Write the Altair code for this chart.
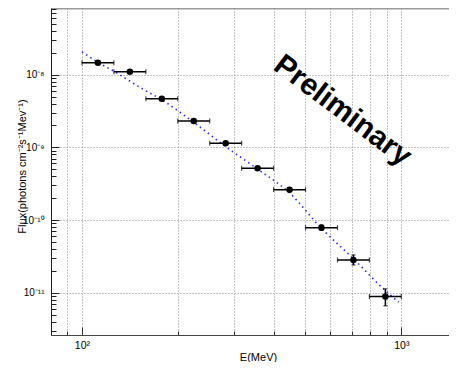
import altair as alt
import pandas as pd

# ---- data ----
E_center = [112.2, 141.3, 177.8, 223.9, 281.8, 354.8, 446.7, 562.3, 707.9, 891.3]
E_lo = [100.0, 125.9, 158.5, 199.5, 251.2, 316.2, 398.1, 501.2, 631.0, 794.3]
E_hi = [125.9, 158.5, 199.5, 251.2, 316.2, 398.1, 501.2, 631.0, 794.3, 1000.0]
flux = [1.46e-8, 1.10e-8, 4.68e-9, 2.31e-9, 1.14e-9, 5.16e-10, 2.62e-10, 7.86e-11, 2.83e-11, 8.9e-12]
flux_lo = [1.40e-8, 1.06e-8, 4.50e-9, 2.22e-9, 1.09e-9, 4.90e-10, 2.50e-10, 7.20e-11, 2.41e-11, 6.6e-12]
flux_hi = [1.52e-8, 1.14e-8, 4.86e-9, 2.40e-9, 1.19e-9, 5.40e-10, 2.75e-10, 8.60e-11, 3.31e-11, 1.13e-11]

fit_E = [100, 112.2, 126.6, 153.5, 178.1, 223.7, 286.5, 351.6, 447, 561.7, 705.5, 886.7, 980.6]
fit_flux = [2.07e-8, 1.48e-8, 1.10e-8, 6.50e-9, 4.49e-9, 2.21e-9, 9.72e-10, 5.16e-10,
            2.35e-10, 7.71e-11, 2.98e-11, 1.09e-11, 7.40e-12]

x_domain = [80, 1410]
y_domain = [2.62e-12, 8.27e-8]
x_label_values = [100, 1000]
x_minor = [90, 200, 300, 400, 500, 600, 700, 800, 900]
x_grid = [90, 100, 200, 300, 400, 500, 600, 700, 800, 900, 1000]
y_major = [1e-11, 1e-10, 1e-9, 1e-8]
y_minor = [3e-12, 4e-12, 5e-12, 6e-12, 7e-12, 8e-12, 9e-12,
           2e-11, 3e-11, 4e-11, 5e-11, 6e-11, 7e-11, 8e-11, 9e-11,
           2e-10, 3e-10, 4e-10, 5e-10, 6e-10, 7e-10, 8e-10, 9e-10,
           2e-9, 3e-9, 4e-9, 5e-9, 6e-9, 7e-9, 8e-9, 9e-9,
           2e-8, 3e-8, 4e-8, 5e-8, 6e-8, 7e-8, 8e-8]

prelim_text = "Preliminary"
prelim_E = 655
prelim_F = 3.2e-9

x_title = "E(MeV)"
y_title = "Flux(photons cm⁻²s⁻¹Mev⁻¹)"

pts = pd.DataFrame({"E": E_center, "Elo": E_lo, "Ehi": E_hi,
                    "F": flux, "Flo": flux_lo, "Fhi": flux_hi})
fit = pd.DataFrame({"E": fit_E, "F": fit_flux})
lab = pd.DataFrame({"E": [prelim_E], "F": [prelim_F], "t": [prelim_text]})

FONT = "Liberation Sans"
xs = alt.Scale(type="log", domain=x_domain, nice=False)
ys = alt.Scale(type="log", domain=y_domain, nice=False)

# grid axes
ax_xgrid = alt.Axis(orient="bottom", values=x_grid, grid=True, gridColor="#8a8a8a", gridDash=[1, 2],
                    gridWidth=1, labels=False, ticks=False, domain=False, title=None)
ax_ygrid = alt.Axis(orient="left", values=y_major, grid=True, gridColor="#8a8a8a", gridDash=[1, 2],
                    gridWidth=1, labels=False, ticks=False, domain=False, title=None)

# label axes
ax_xlab = alt.Axis(orient="bottom", values=x_label_values, grid=False, ticks=False, tickSize=0,
                   domain=True, domainColor="#444", domainWidth=1,
                   labelExpr="datum.value < 500 ? '10²' : '10³'",
                   labelFont=FONT, labelFontSize=10.5, labelColor="#000",
                   labelPadding=5,
                   title=x_title, titleFont=FONT, titleFontSize=11,
                   titleFontWeight="normal", titleColor="#000",
                   titleX=207, titleY=22, titleBaseline="middle", titleAlign="center")
ax_ylab = alt.Axis(orient="left", values=y_major, grid=False, ticks=False, tickSize=0,
                   domain=True, domainColor="#222", domainWidth=1,
                   labelExpr="datum.value < 5e-11 ? '10⁻¹¹' : (datum.value < 5e-10 ? '10⁻¹⁰' : (datum.value < 5e-9 ? '10⁻⁹' : '10⁻⁸'))",
                   labelFont=FONT, labelFontSize=10, labelColor="#000",
                   labelPadding=7,
                   title=y_title, titleFont=FONT, titleFontSize=11,
                   titleFontWeight="normal", titleColor="#000",
                   titleX=-29, titleY=158, titleBaseline="middle", titleAlign="center",
                   titleAngle=270)

# inward tick axes
ax_xmaj = alt.Axis(orient="bottom", values=x_label_values, ticks=True, tickSize=8, offset=-8,
                   tickColor="#333", tickWidth=1, labels=False, domain=False,
                   grid=False, title=None)
ax_xmin = alt.Axis(orient="bottom", values=x_minor, ticks=True, tickSize=4, offset=-4,
                   tickColor="#333", tickWidth=1, labels=False, domain=False,
                   grid=False, title=None)
ax_ymaj = alt.Axis(orient="left", values=y_major, ticks=True, tickSize=8, offset=-8,
                   tickColor="#222", tickWidth=1, labels=False, domain=False,
                   grid=False, title=None)
ax_ymin = alt.Axis(orient="left", values=y_minor, ticks=True, tickSize=5, offset=-5,
                   tickColor="#222", tickWidth=1, labels=False, domain=False,
                   grid=False, title=None)
ax_top = alt.Axis(orient="top", labels=False, ticks=False, grid=False,
                  domain=True, domainColor="#9a9a9a", domainWidth=2, title=None)

fit_line = alt.Chart(fit).mark_line(
    color="#2a2aff", strokeWidth=1.6, strokeDash=[1.5, 3.5], interpolate="monotone"
).encode(
    x=alt.X("E:Q", scale=xs, axis=ax_xgrid),
    y=alt.Y("F:Q", scale=ys, axis=ax_ygrid),
)

hbar = alt.Chart(pts).mark_rule(color="#000", strokeWidth=1.5).encode(
    x=alt.X("Elo:Q", scale=xs, axis=ax_xlab),
    x2="Ehi:Q",
    y=alt.Y("F:Q", scale=ys, axis=ax_ylab),
)

cap_lo = alt.Chart(pts).mark_tick(orient="vertical", size=5, thickness=1.2, color="#000").encode(
    x=alt.X("Elo:Q", scale=xs, axis=ax_xmaj),
    y=alt.Y("F:Q", scale=ys, axis=ax_ymaj),
)
cap_hi = alt.Chart(pts).mark_tick(orient="vertical", size=5, thickness=1.2, color="#000").encode(
    x=alt.X("Ehi:Q", scale=xs, axis=ax_xmin),
    y=alt.Y("F:Q", scale=ys, axis=ax_ymin),
)

vbar = alt.Chart(pts).mark_rule(color="#000", strokeWidth=1.5).encode(
    x=alt.X("E:Q", scale=xs, axis=ax_top),
    y=alt.Y("Flo:Q", scale=ys, axis=None),
    y2="Fhi:Q",
)
vcap_lo = alt.Chart(pts).mark_tick(orient="horizontal", size=4, thickness=1.2, color="#000").encode(
    x=alt.X("E:Q", scale=xs, axis=None),
    y=alt.Y("Flo:Q", scale=ys, axis=None),
)
vcap_hi = alt.Chart(pts).mark_tick(orient="horizontal", size=4, thickness=1.2, color="#000").encode(
    x=alt.X("E:Q", scale=xs, axis=None),
    y=alt.Y("Fhi:Q", scale=ys, axis=None),
)

points = alt.Chart(pts).mark_circle(size=42, color="#000", opacity=1).encode(
    x=alt.X("E:Q", scale=xs, axis=None),
    y=alt.Y("F:Q", scale=ys, axis=None),
)

text = alt.Chart(lab).mark_text(
    font=FONT, fontSize=30, fontWeight="bold", color="#000", angle=37,
    align="center", baseline="middle"
).encode(
    x=alt.X("E:Q", scale=xs, axis=None),
    y=alt.Y("F:Q", scale=ys, axis=None),
    text="t:N",
)

chart = alt.layer(
    fit_line, hbar, cap_lo, cap_hi, vbar, vcap_lo, vcap_hi, points, text
).resolve_axis(x="independent", y="independent").properties(
    width=398, height=327,
    autosize=alt.AutoSizeParams(type="none"),
    padding={"left": 43, "top": 0, "right": 0, "bottom": 27},
    background="white",
).configure_view(stroke=None)

chart.save("out.html", embed_options={"renderer": "svg", "actions": False})
